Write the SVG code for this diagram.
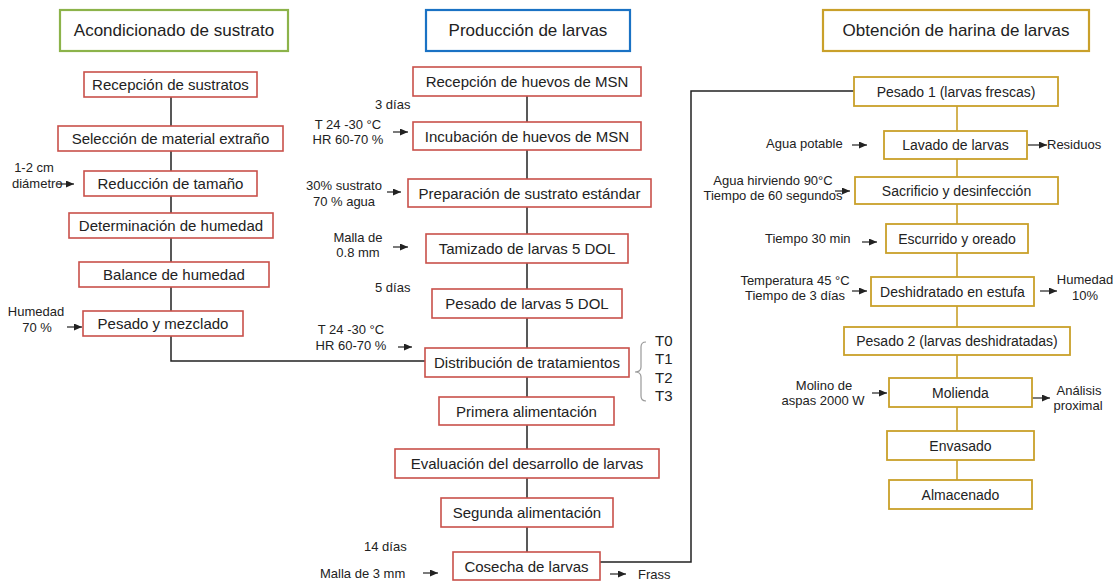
<svg xmlns="http://www.w3.org/2000/svg" width="1118" height="583" viewBox="0 0 1118 583">
<style>
text{font-family:"Liberation Sans",Arial,sans-serif;fill:#222}
.hd rect{fill:#fff;stroke-width:2.2}
.hd text{font-size:17px;text-anchor:middle;dominant-baseline:central}
.r rect{fill:#fff;stroke:#c9504a;stroke-width:1.6}
.g rect{fill:#fff;stroke:#c9a02a;stroke-width:1.8}
.n text{font-size:15px;text-anchor:middle;dominant-baseline:central}
.g text{font-size:14px}
.a{font-size:13px}
.m{text-anchor:middle}
.t{font-size:15px}
.ln{stroke:#222;stroke-width:1.5;fill:none}
.gl{stroke:#c9a02a;stroke-width:1.6;fill:none}
.ar{stroke:#222;stroke-width:1.2;fill:none;marker-end:url(#ah)}
</style>
<defs>
<marker id="ah" markerUnits="userSpaceOnUse" markerWidth="8" markerHeight="7" refX="8" refY="3.5" orient="auto">
<path d="M0,0 L8,3.5 L0,7 z" fill="#222"/>
</marker>
</defs>
<rect width="1118" height="583" fill="#fff"/>

<g id="connectors">
<polyline class="ln" points="171,97 171,361 425,361"/>
<line class="ln" x1="527" y1="96" x2="527" y2="552"/>
<polyline class="ln" points="600,562 691,562 691,91 854,91"/>
<line class="gl" x1="957" y1="106" x2="957" y2="480"/>
<path d="M646,342 Q641,342 641,347 L641,367 Q641,372 635,372 Q641,372 641,377 L641,396 Q641,401 646,401" stroke="#999" stroke-width="1.2" fill="none"/>
<line class="ar" x1="57" y1="184" x2="74" y2="184"/>
<line class="ar" x1="67" y1="327" x2="82" y2="327"/>
<line class="ar" x1="393" y1="132" x2="408" y2="132"/>
<line class="ar" x1="387" y1="192" x2="401" y2="192"/>
<line class="ar" x1="393" y1="247" x2="408" y2="247"/>
<line class="ar" x1="398" y1="347" x2="412" y2="347"/>
<line class="ar" x1="423" y1="573" x2="438" y2="573"/>
<line class="ar" x1="610" y1="574" x2="626" y2="574"/>
<line class="ar" x1="852" y1="145" x2="867" y2="145"/>
<line class="ar" x1="1028" y1="145" x2="1047" y2="145"/>
<line class="ar" x1="835" y1="191" x2="850" y2="191"/>
<line class="ar" x1="862" y1="242" x2="877" y2="242"/>
<line class="ar" x1="852" y1="291" x2="867" y2="291"/>
<line class="ar" x1="1040" y1="291" x2="1057" y2="291"/>
<line class="ar" x1="872" y1="393" x2="887" y2="393"/>
<line class="ar" x1="1032" y1="398" x2="1050" y2="398"/>
</g>

<g id="h1" class="hd"><rect x="60" y="10" width="228" height="41" stroke="#8cb34a"/><text x="174" y="30.5">Acondicionado de sustrato</text></g>
<g id="h2" class="hd"><rect x="426" y="10" width="204" height="41" stroke="#1a72c4"/><text x="528" y="30.5">Producción de larvas</text></g>
<g id="h3" class="hd"><rect x="823" y="10" width="266" height="41" stroke="#c9a02a"/><text x="956" y="30.5">Obtención de harina de larvas</text></g>

<g id="l1" class="n r"><rect x="84" y="72" width="173" height="25"/><text x="170.5" y="84.5">Recepción de sustratos</text></g>
<g id="l2" class="n r"><rect x="58" y="126" width="225" height="25"/><text x="170.5" y="138.5">Selección de material extraño</text></g>
<g id="l3" class="n r"><rect x="84" y="171" width="173" height="25"/><text x="170.5" y="183.5">Reducción de tamaño</text></g>
<g id="l4" class="n r"><rect x="69" y="213" width="204" height="25"/><text x="171" y="225.5">Determinación de humedad</text></g>
<g id="l5" class="n r"><rect x="79" y="262" width="190" height="25"/><text x="174" y="274.5">Balance de humedad</text></g>
<g id="l6" class="n r"><rect x="83" y="311" width="160" height="25"/><text x="163" y="323.5">Pesado y mezclado</text></g>

<g id="m1" class="n r"><rect x="413" y="67" width="228" height="29"/><text x="527" y="81.5">Recepción de huevos de MSN</text></g>
<g id="m2" class="n r"><rect x="413" y="122" width="228" height="28"/><text x="527" y="136">Incubación de huevos de MSN</text></g>
<g id="m3" class="n r"><rect x="408" y="179" width="243" height="28"/><text x="529.5" y="193">Preparación de sustrato estándar</text></g>
<g id="m4" class="n r"><rect x="426" y="234" width="202" height="29"/><text x="527" y="248.5">Tamizado de larvas 5 DOL</text></g>
<g id="m5" class="n r"><rect x="432" y="289" width="190" height="29"/><text x="527" y="303.5">Pesado de larvas 5 DOL</text></g>
<g id="m6" class="n r"><rect x="425" y="348" width="204" height="29"/><text x="527" y="362.5">Distribución de tratamientos</text></g>
<g id="m7" class="n r"><rect x="439" y="397" width="175" height="28"/><text x="526.5" y="411">Primera alimentación</text></g>
<g id="m8" class="n r"><rect x="395" y="449" width="264" height="29"/><text x="527" y="463.5">Evaluación del desarrollo de larvas</text></g>
<g id="m9" class="n r"><rect x="441" y="498" width="172" height="29"/><text x="527" y="512.5">Segunda alimentación</text></g>
<g id="m10" class="n r"><rect x="453" y="552" width="147" height="28"/><text x="526.5" y="566">Cosecha de larvas</text></g>

<g id="r1" class="n g"><rect x="854" y="77" width="204" height="29"/><text x="956" y="91.5">Pesado 1 (larvas frescas)</text></g>
<g id="r2" class="n g"><rect x="884" y="131" width="143" height="28"/><text x="955.5" y="145">Lavado de larvas</text></g>
<g id="r3" class="n g"><rect x="855" y="177" width="203" height="27"/><text x="956.5" y="190.5">Sacrificio y desinfección</text></g>
<g id="r4" class="n g"><rect x="886" y="224" width="142" height="29"/><text x="957" y="238.5">Escurrido y oreado</text></g>
<g id="r5" class="n g"><rect x="871" y="277" width="163" height="29"/><text x="952.5" y="291.5">Deshidratado en estufa</text></g>
<g id="r6" class="n g"><rect x="844" y="327" width="226" height="28"/><text x="957" y="341">Pesado 2 (larvas deshidratadas)</text></g>
<g id="r7" class="n g"><rect x="889" y="378" width="143" height="29"/><text x="960.5" y="392.5">Molienda</text></g>
<g id="r8" class="n g"><rect x="887" y="431" width="147" height="29"/><text x="960.5" y="445.5">Envasado</text></g>
<g id="r9" class="n g"><rect x="889" y="480" width="143" height="29"/><text x="960.5" y="494.5">Almacenado</text></g>

<g id="labels">
<text class="a m" x="34" y="172">1-2 cm</text>
<text class="a" x="12" y="188">diámetro</text>
<text class="a m" x="36" y="316">Humedad</text>
<text class="a m" x="37" y="332">70 %</text>
<text class="a" x="375" y="109">3 días</text>
<text class="a m" x="348" y="129">T 24 -30 °C</text>
<text class="a m" x="348" y="144">HR 60-70 %</text>
<text class="a m" x="344" y="190">30% sustrato</text>
<text class="a m" x="344" y="206">70 % agua</text>
<text class="a m" x="358" y="242">Malla de</text>
<text class="a m" x="358" y="257">0.8 mm</text>
<text class="a" x="375" y="292">5 días</text>
<text class="a m" x="351" y="334">T 24 -30 °C</text>
<text class="a m" x="351" y="350">HR 60-70 %</text>
<text class="t" x="655" y="346">T0</text>
<text class="t" x="655" y="364">T1</text>
<text class="t" x="655" y="383">T2</text>
<text class="t" x="655" y="401">T3</text>
<text class="a" x="364" y="551">14 días</text>
<text class="a" x="320" y="578">Malla de 3 mm</text>
<text class="a" x="638" y="579">Frass</text>
<text class="a" x="766" y="148">Agua potable</text>
<text class="a" x="1047" y="149">Residuos</text>
<text class="a m" x="773" y="185">Agua hirviendo 90°C</text>
<text class="a m" x="773" y="200">Tiempo de 60 segundos</text>
<text class="a" x="765" y="243">Tiempo 30 min</text>
<text class="a m" x="795" y="285">Temperatura 45 °C</text>
<text class="a m" x="795" y="300">Tiempo de 3 días</text>
<text class="a m" x="1085" y="284">Humedad</text>
<text class="a m" x="1085" y="300">10%</text>
<text class="a m" x="824" y="390">Molino de</text>
<text class="a m" x="823" y="405">aspas 2000 W</text>
<text class="a m" x="1079" y="395">Análisis</text>
<text class="a m" x="1078" y="410">proximal</text>
</g>
</svg>
